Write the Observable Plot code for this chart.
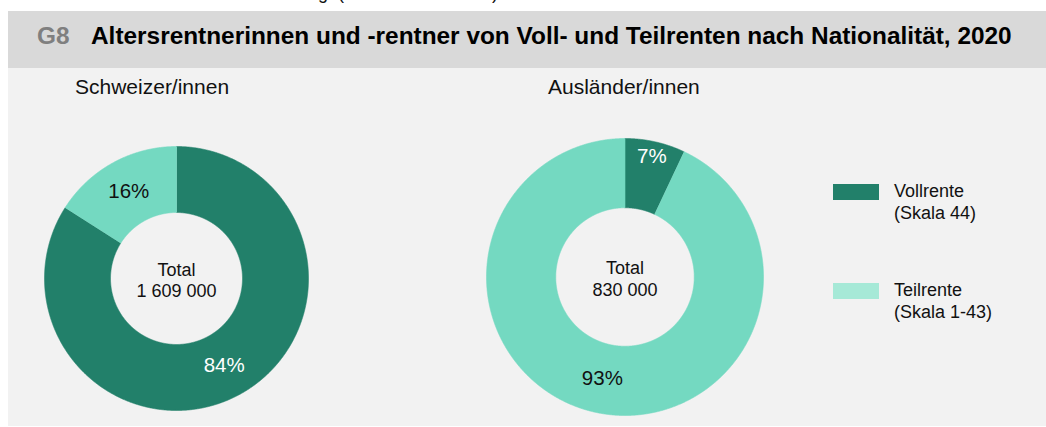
<!DOCTYPE html>
<html>
<head>
<meta charset="utf-8">
<script src="https://cdn.jsdelivr.net/npm/d3@7"></script>
<script src="https://cdn.jsdelivr.net/npm/@observablehq/plot@0.6"></script>
<style>
  html, body { margin: 0; padding: 0; background: #ffffff; }
  body { width: 1046px; height: 427px; position: relative; overflow: hidden;
         font-family: "Liberation Sans", Arial, sans-serif; color: #111; }
  .abs { position: absolute; white-space: pre; line-height: 1; }
  #band { position: absolute; left: 8px; top: 11px; width: 1038px; height: 57px; background: #d9d9d9; }
  #panel { position: absolute; left: 8px; top: 68px; width: 1038px; height: 358px; background: #f2f2f2; }
  .swatch { position: absolute; width: 46px; height: 16px; }
  .legtext { position: absolute; font-size: 18px; line-height: 21.7px; white-space: pre; }
  svg { overflow: visible; }
</style>
</head>
<body>
<script>
// ---- data ----
const categories = ["Vollrente", "Teilrente"];
const categoryNotes = ["(Skala 44)", "(Skala 1-43)"];
const groups = ["Schweizer/innen", "Ausländer/innen"];
const sharesSchweizer = [84, 16];
const sharesAuslaender = [7, 93];
const totals = [1609000, 830000];
const titleCode = "G8";
const titleText = "Altersrentnerinnen und -rentner von Voll- und Teilrenten nach Nationalität, 2020";

// ---- style ----
const colors = ["#22806a", "#74d9c1"];
const legendColors = ["#22806a", "#a6e9d7"];
const fmt = d3.formatLocale({decimal: ".", thousands: " ", grouping: [3], currency: ["", ""]}).format(",");

function el(tag, cls, style, text) {
  const e = document.createElement(tag);
  if (cls) e.className = cls;
  Object.assign(e.style, style);
  if (text != null) e.textContent = text;
  document.body.appendChild(e);
  return e;
}

el("div", null, {}).id = "band";
el("div", null, {}).id = "panel";

// clipped text fragment at the very top (cut off in the reference as well)
el("div", "abs", {left: "318px", top: "-16px", fontSize: "18px"}, "g. (");
el("div", "abs", {left: "492px", top: "-16px", fontSize: "18px"}, ")");

el("div", "abs", {left: "37px", top: "24px", fontSize: "24.4px", fontWeight: "bold", color: "#7f7f7f"}, titleCode);
el("div", "abs", {left: "91px", top: "24px", fontSize: "24.4px", fontWeight: "bold", color: "#000"}, titleText);

el("div", "abs", {left: "75px", top: "75.5px", fontSize: "21px"}, groups[0]);
el("div", "abs", {left: "548px", top: "75.5px", fontSize: "21px"}, groups[1]);

function donut(shares, total, R, innerFrac, cx, cy) {
  const m = 3;
  const S = 2 * R + 2 * m;
  const arcs = d3.pie().sort(null).value(d => d.v)(categories.map((c, i) => ({cat: c, v: shares[i]})));
  const pts = [];
  const step = Math.PI / 720;
  for (const a of arcs) {
    const n = Math.max(2, Math.ceil((a.endAngle - a.startAngle) / step));
    for (let k = 0; k <= n; k++) {
      const t = a.startAngle + (a.endAngle - a.startAngle) * k / n;
      pts.push({cat: a.data.cat, x: Math.sin(t), y: Math.cos(t)});
    }
    for (let k = n; k >= 0; k--) {
      const t = a.startAngle + (a.endAngle - a.startAngle) * k / n;
      pts.push({cat: a.data.cat, x: innerFrac * Math.sin(t), y: innerFrac * Math.cos(t)});
    }
  }
  const labels = arcs.map(a => {
    const mid = (a.startAngle + a.endAngle) / 2;
    const rr = a.data.v < 10 ? 0.89 : (1 + innerFrac) / 2;
    return {cat: a.data.cat, x: rr * Math.sin(mid), y: rr * Math.cos(mid), text: a.data.v + "%"};
  });
  const plot = Plot.plot({
    width: S, height: S, margin: m,
    x: {domain: [-1, 1], axis: null},
    y: {domain: [-1, 1], axis: null},
    color: {domain: categories, range: colors},
    style: {background: "transparent", fontFamily: "Liberation Sans, Arial, sans-serif"},
    marks: [
      Plot.line(pts, {x: "x", y: "y", z: "cat", fill: "cat", stroke: "cat", strokeWidth: 0.6}),
      Plot.text(labels.filter(d => d.cat === categories[0]), {x: "x", y: "y", text: "text", fill: "white", fontSize: 20.5}),
      Plot.text(labels.filter(d => d.cat === categories[1]), {x: "x", y: "y", text: "text", fill: "#111", fontSize: 20.5}),
      Plot.text([total], {frameAnchor: "middle", text: d => "Total\n" + fmt(d), fill: "#111", fontSize: 18, lineHeight: 1.2, dy: 1})
    ]
  });
  plot.style.position = "absolute";
  plot.style.left = (cx - R - m) + "px";
  plot.style.top = (cy - R - m) + "px";
  document.body.appendChild(plot);
}

donut(sharesSchweizer, totals[0], 132, 0.5, 175.5, 277.5);
donut(sharesAuslaender, totals[1], 138.5, 0.5, 624.3, 276.5);

// legend
const legTop = [184, 283];
categories.forEach((c, i) => {
  el("div", "swatch", {left: "833px", top: legTop[i] + "px", background: legendColors[i]});
  el("div", "legtext", {left: "894px", top: (legTop[i] - 2.8) + "px"}, c + "\n" + categoryNotes[i]);
});
</script>
</body>
</html>
